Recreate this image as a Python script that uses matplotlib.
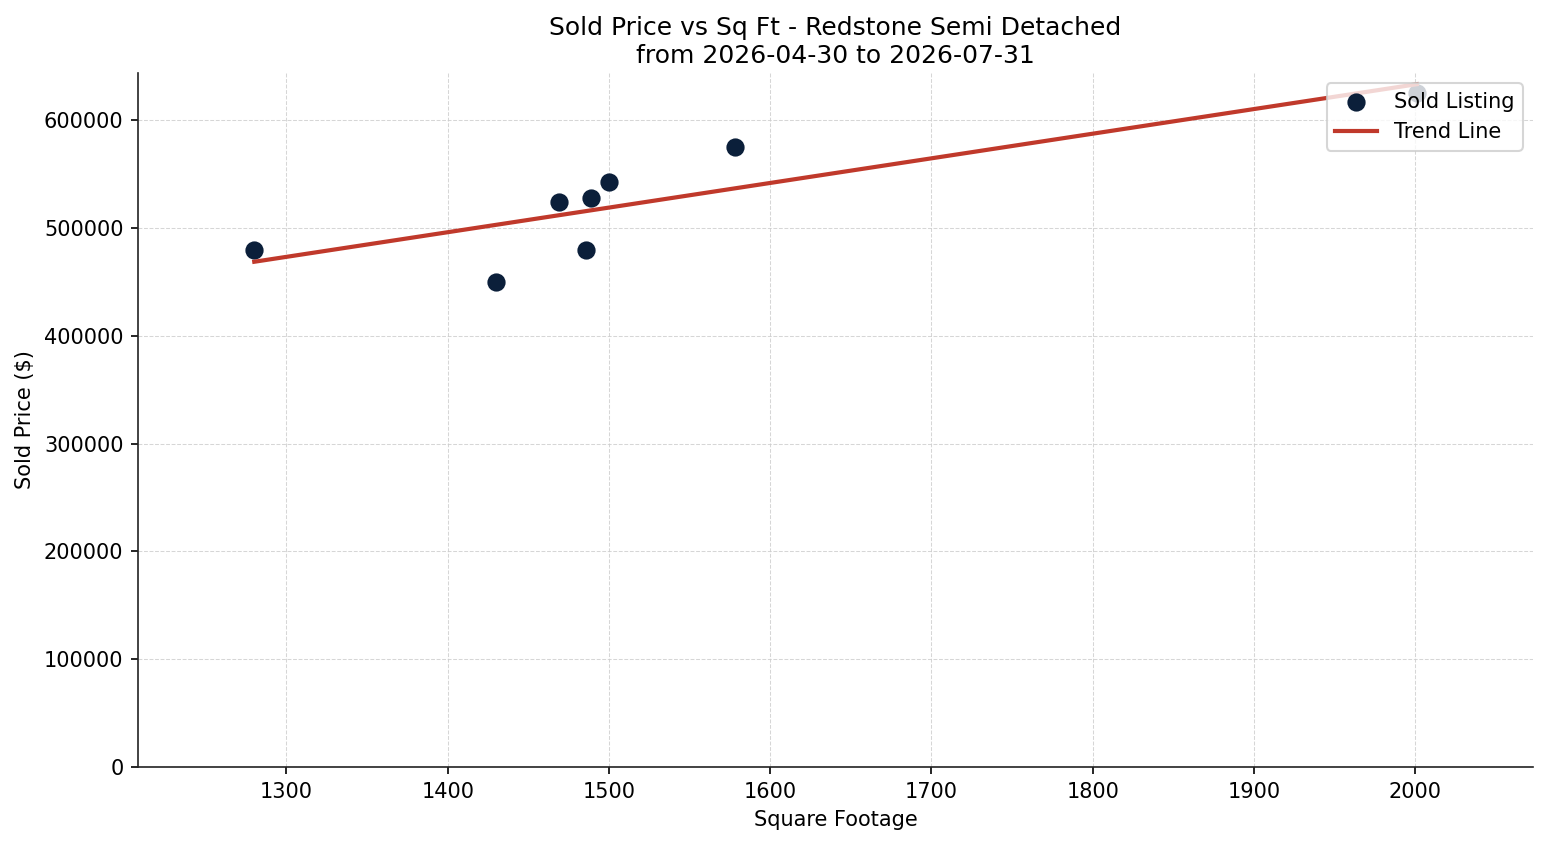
import numpy as np
import matplotlib
matplotlib.use("Agg")
import matplotlib.pyplot as plt

sqft = [1280, 1430, 1469, 1489, 1486, 1500, 1578, 2001]
price = [480000, 450000, 524000, 528000, 480000, 542500, 575000, 625000]
title = "Sold Price vs Sq Ft - Redstone Semi Detached\nfrom 2026-04-30 to 2026-07-31"

x = np.array(sqft, dtype=float)
y = np.array(price, dtype=float)

dpi = 150
fig = plt.figure(figsize=(1547 / dpi, 845 / dpi), dpi=dpi)
ax = fig.add_axes([138 / 1547, 1 - 767 / 845, (1533 - 138) / 1547, (767 - 73) / 845])

ax.scatter(x, y, s=60, color="#0b1f3a", label="Sold Listing", zorder=3)
m, b = np.polyfit(x, y, 1)
xs = np.array([x.min(), x.max()])
ax.plot(xs, m * xs + b, color="#c0392b", linewidth=2, label="Trend Line", zorder=4)

rng = x.max() - x.min()
ax.set_xlim(x.min() - 0.1 * rng, x.max() + 0.1 * rng)
ax.set_ylim(0, y.max() * 1.03)

ax.set_title(title, fontsize=12, pad=5)
ax.set_xlabel("Square Footage", fontsize=10)
ax.set_ylabel("Sold Price ($)", fontsize=10)
ax.tick_params(labelsize=10)
ax.ticklabel_format(style="plain", axis="y", useOffset=False)
ax.grid(True, linestyle="--", linewidth=0.5, color="#cccccc", alpha=0.8)
ax.set_axisbelow(True)
for s in ["top", "right"]:
    ax.spines[s].set_visible(False)
for s in ["left", "bottom"]:
    ax.spines[s].set_color("#222222")
leg = ax.legend(loc="upper right", fontsize=10, framealpha=0.8)
leg.set_zorder(10)

fig.savefig("out.png", dpi=dpi)
